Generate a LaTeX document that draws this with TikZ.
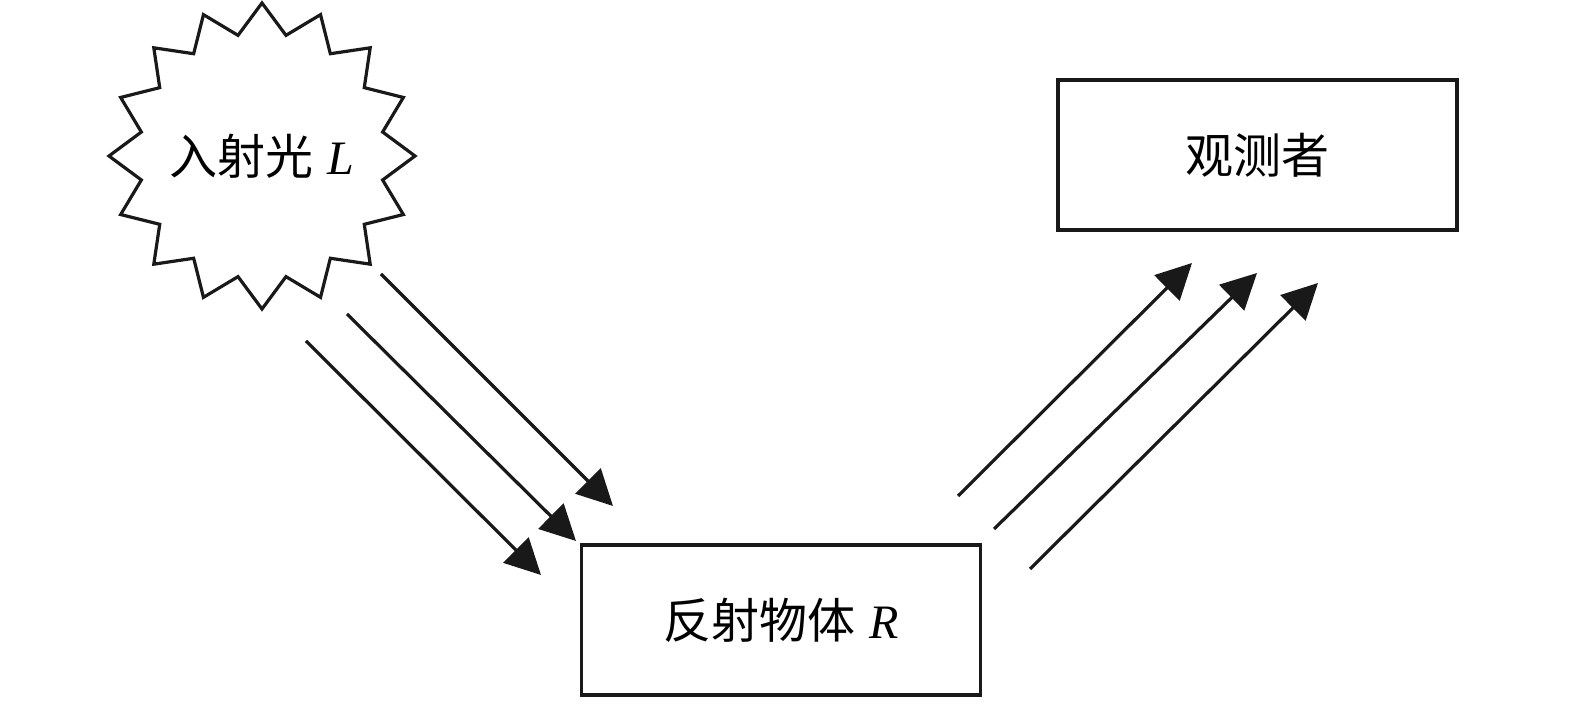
\documentclass[tikz,border=0pt]{standalone}
\usepackage{fontspec}
\setmainfont{Liberation Serif}
\newfontfamily\cjk{Noto Sans CJK SC}
\usetikzlibrary{shapes.geometric,arrows.meta}
\begin{document}
\begin{tikzpicture}[x=0.5pt,y=-0.5pt,
  txt/.style={font=\fontsize{24}{28}\selectfont},
  box/.style={draw=black!90,line width=1.6pt,rectangle,minimum width=199.5pt,minimum height=75pt,inner sep=0pt,txt},
  burst/.style={draw=black!90,line width=1.6pt,star,star points=16,star point ratio=1.244,minimum size=153pt,inner sep=0pt},
  ray/.style={line width=1.6pt,draw=black!90,-{Triangle[length=17.7pt,width=17.7pt]}}]
\useasboundingbox (0,0) rectangle (1575,704);
\node[burst,label={[txt]center:{\cjk 入射光}\hspace{0.3em}\textit{L}}] (L) at (262,156) {};
\node[box] (R) at (781,620) {{\cjk 反射物体}\hspace{0.3em}\textit{R}};
\node[box] (O) at (1257.5,155) {\cjk 观测者};
\coordinate (a1) at (381,274); \coordinate (b1) at (613,506);
\coordinate (a2) at (347,314); \coordinate (b2) at (576,541);
\coordinate (a3) at (306,341); \coordinate (b3) at (541,575);
\coordinate (c1) at (958,496); \coordinate (d1) at (1192,263);
\coordinate (c2) at (994,529); \coordinate (d2) at (1257,273);
\coordinate (c3) at (1030,569); \coordinate (d3) at (1318,283);
\draw[ray] (a1) -- (b1);
\draw[ray] (a2) -- (b2);
\draw[ray] (a3) -- (b3);
\draw[ray] (c1) -- (d1);
\draw[ray] (c2) -- (d2);
\draw[ray] (c3) -- (d3);
\end{tikzpicture}
\end{document}
